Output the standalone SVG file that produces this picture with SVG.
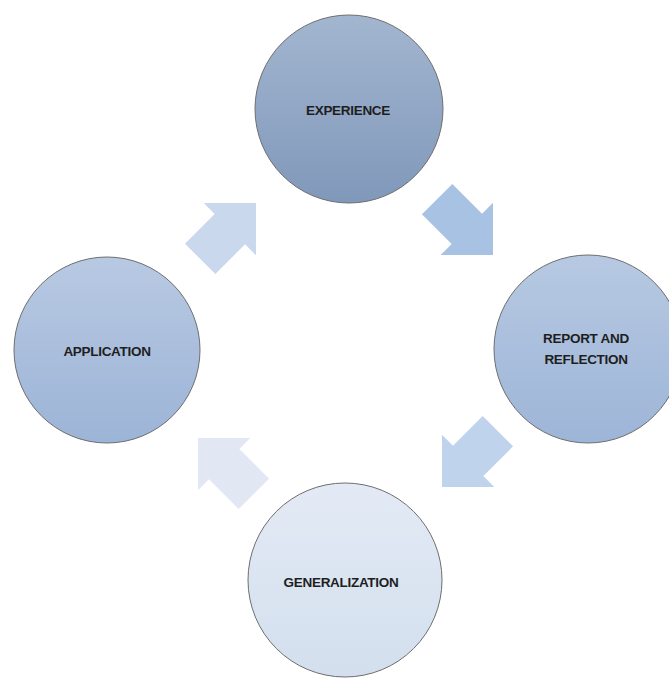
<svg xmlns="http://www.w3.org/2000/svg" width="669" height="680" viewBox="0 0 669 680">
  <defs>
    <linearGradient id="gExp" x1="0" y1="0" x2="0" y2="1">
      <stop offset="0" stop-color="#a3b6d0"/>
      <stop offset="1" stop-color="#8098ba"/>
    </linearGradient>
    <linearGradient id="gRep" x1="0" y1="0" x2="0" y2="1">
      <stop offset="0" stop-color="#b7c9e2"/>
      <stop offset="1" stop-color="#9db5d8"/>
    </linearGradient>
    <linearGradient id="gApp" x1="0" y1="0" x2="0" y2="1">
      <stop offset="0" stop-color="#b8c9e2"/>
      <stop offset="1" stop-color="#9cb4d7"/>
    </linearGradient>
    <linearGradient id="gGen" x1="0" y1="0" x2="0" y2="1">
      <stop offset="0" stop-color="#e3eaf5"/>
      <stop offset="1" stop-color="#d3dfee"/>
    </linearGradient>
    <linearGradient id="gA1" gradientUnits="userSpaceOnUse" x1="0" y1="200" x2="0" y2="280">
      <stop offset="0" stop-color="#c9d8ed"/>
      <stop offset="1" stop-color="#b6cbe6"/>
    </linearGradient>
    <linearGradient id="gA2" gradientUnits="userSpaceOnUse" x1="0" y1="180" x2="0" y2="258">
      <stop offset="0" stop-color="#a8c2e4"/>
      <stop offset="1" stop-color="#8fb0dc"/>
    </linearGradient>
    <linearGradient id="gA3" gradientUnits="userSpaceOnUse" x1="0" y1="418" x2="0" y2="490">
      <stop offset="0" stop-color="#c0d3ec"/>
      <stop offset="1" stop-color="#b2c9e7"/>
    </linearGradient>
    <linearGradient id="gA4" gradientUnits="userSpaceOnUse" x1="0" y1="435" x2="0" y2="508">
      <stop offset="0" stop-color="#e1e8f3"/>
      <stop offset="1" stop-color="#e6edf6"/>
    </linearGradient>
    <!-- block arrow pointing along +x, tip at the origin -->
    <path id="blockArrow" d="M0,0 L-37,37 L-37,21.5 L-79,21.5 L-79,-21.5 L-37,-21.5 L-37,-37 Z"/>
  </defs>
  <style>
    .node circle { stroke: #6e6e6e; stroke-width: 1; }
    .label { font-family: "Liberation Sans", Arial, sans-serif; font-weight: bold; font-size: 13.5px; letter-spacing: -0.3px; fill: #1e1e1e; text-anchor: middle; }
    .arrow { stroke: #ffffff; stroke-width: 5; stroke-linejoin: miter; paint-order: stroke; }
  </style>

  <rect width="669" height="680" fill="#ffffff"/>

  <g id="connectors">
    <use href="#blockArrow" class="arrow" fill="url(#gA1)" transform="translate(256,203) rotate(-45)"/>
    <use href="#blockArrow" class="arrow" fill="url(#gA2)" transform="translate(493,255) rotate(45)"/>
    <use href="#blockArrow" class="arrow" fill="url(#gA3)" transform="translate(442,487) rotate(135)"/>
    <use href="#blockArrow" class="arrow" fill="url(#gA4)" transform="translate(198,438) rotate(-135)"/>
  </g>

  <g id="experience" class="node">
    <circle cx="349" cy="109" r="94" fill="url(#gExp)"/>
    <text class="label" x="348" y="115">EXPERIENCE</text>
  </g>

  <g id="report-reflection" class="node">
    <circle cx="588" cy="349" r="94" fill="url(#gRep)"/>
    <text class="label" x="586" y="343">REPORT AND</text>
    <text class="label" x="586" y="364">REFLECTION</text>
  </g>

  <g id="application" class="node">
    <circle cx="107" cy="350" r="93" fill="url(#gApp)"/>
    <text class="label" x="107" y="356">APPLICATION</text>
  </g>

  <g id="generalization" class="node">
    <circle cx="345" cy="580" r="97" fill="url(#gGen)"/>
    <text class="label" x="341" y="587">GENERALIZATION</text>
  </g>
</svg>
